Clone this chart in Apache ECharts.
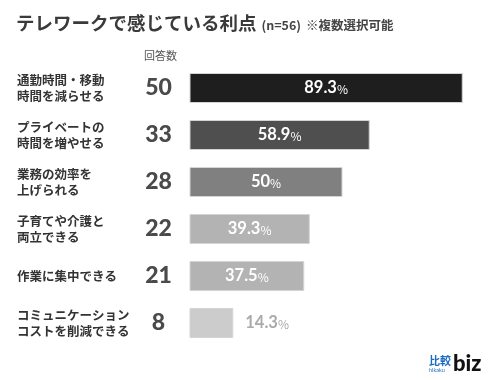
<!DOCTYPE html>
<html><head><meta charset="utf-8">
<script src="https://cdn.jsdelivr.net/npm/echarts@6/dist/echarts.min.js"></script>
<style>html,body{margin:0;padding:0;background:#fff}#c{width:490px;height:380px}</style>
</head><body><div id="c"></div>
<script>
var categories = ['通勤時間・移動\n時間を減らせる','プライベートの\n時間を増やせる','業務の効率を\n上げられる','子育てや介護と\n両立できる','作業に集中できる','コミュニケーション\nコストを削減できる'];
var counts = [50, 33, 28, 22, 21, 8];
var percents = [89.3, 58.9, 50, 39.3, 37.5, 14.3];
var barColors = ['#1e1e1e','#4f4f4f','#808080','#b3b3b3','#b3b3b3','#cccccc'];

var JP = '"Noto Sans CJK JP", "Noto Sans", sans-serif';
var chart = echarts.init(document.getElementById('c'), null, {renderer:'canvas'});
var data = percents.map(function(v,i){
  var inside = v > 20;
  var col = inside ? '#fff' : '#aaaaaa';
  return {
    value: v,
    itemStyle: {color: barColors[i], borderColor: '#d4d4d4', borderWidth: 1},
    label: {
      show: true, position: inside ? 'inside' : 'right', distance: 12,
      formatter: function(p){ return '{a|' + p.value + '}{b|%}'; },
      rich: {
        a: {fontSize: 16.5, fontWeight: 'bold', color: col, fontFamily: 'Lato, ' + JP},
        b: {fontSize: 12, color: col, fontFamily: JP, padding:[2,0,0,0]}
      }
    }
  };
});

chart.setOption({
  animation: false,
  backgroundColor: '#fff',
  title: [{
    text: '{t|テレワークで感じている利点} {n|(n=56)} {s|※複数選択可能}',
    left: 16, top: 14, padding: 0,
    textStyle: {
      rich: {
        t: {fontSize: 18.5, fontWeight: 'bold', color: '#3a3a3a', fontFamily: JP},
        n: {fontSize: 12.5, fontWeight: 'bold', color: '#444', fontFamily: JP, padding:[3,0,0,0]},
        s: {fontSize: 12.5, fontWeight: 'bold', color: '#444', fontFamily: JP, padding:[3,0,0,0]}
      }
    }
  }, {
    text: '回答数', left: 144, top: 50, padding: 0,
    textStyle: {fontSize: 11, color: '#555', fontWeight: 'normal', fontFamily: JP}
  }],
  graphic: [
    {type: 'text', left: 429, top: 355, style: {text: '比較', font: 'bold 11px "Noto Sans CJK JP"', fill: '#1a6cc0'}},
    {type: 'text', left: 429, top: 367, style: {text: 'hikaku', font: '5.5px Lato', fill: '#1a6cc0'}},
    {type: 'text', left: 453, top: 353, style: {text: 'biz', font: '900 22px Lato', fill: '#111'}}
  ],
  grid: {left: 189.5, top: 64.5, width: 306, height: 282, outerBoundsMode: 'none', containLabel: false},
  xAxis: {type: 'value', min: 0, max: 100, show: false},
  yAxis: [{
    type: 'category', data: categories, inverse: true, position: 'left',
    axisLine: {show: false}, axisTick: {show: false},
    axisLabel: {align: 'left', margin: 172.5, fontSize: 12.5, lineHeight: 16, color: '#333', fontWeight: 'bold', fontFamily: JP}
  }, {
    type: 'category', data: counts, inverse: true, position: 'left',
    axisLine: {show: false}, axisTick: {show: false},
    axisLabel: {align: 'center', margin: 31, fontSize: 23, color: '#4a4a4a', fontWeight: 900, fontFamily: 'Lato, "Noto Sans", sans-serif'}
  }],
  series: [{
    type: 'bar', yAxisIndex: 0, data: data, barWidth: 30
  }]
});
</script></body></html>
